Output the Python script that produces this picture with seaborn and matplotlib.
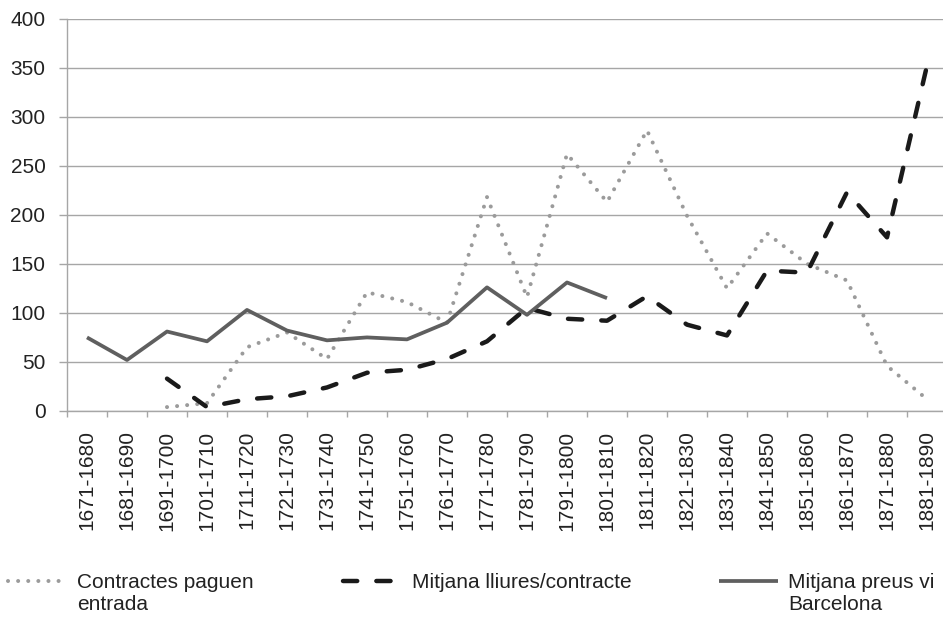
import numpy as np
import pandas as pd
import matplotlib
matplotlib.use("Agg")
import matplotlib.pyplot as plt
import seaborn as sns
from matplotlib.lines import Line2D

periods = ['1671-1680', '1681-1690', '1691-1700', '1701-1710', '1711-1720',
           '1721-1730', '1731-1740', '1741-1750', '1751-1760', '1761-1770',
           '1771-1780', '1781-1790', '1791-1800', '1801-1810', '1811-1820',
           '1821-1830', '1831-1840', '1841-1850', '1851-1860', '1861-1870',
           '1871-1880', '1881-1890']
nan = np.nan
contractes = [nan, nan, 4, 8, 65, 80, 53, 121, 111, 90, 218, 116, 262, 213,
              286, 199, 125, 181, 150, 133, 46, 12]
lliures = [nan, nan, 33, 4, 12, 15, 24, 39, 42, 53, 71, 105, 94, 92,
           117, 88, 77, 143, 141, 223, 177, 352]
preus = [75, 52, 81, 71, 103, 82, 72, 75, 73, 90, 126, 98, 131, 115,
         nan, nan, nan, nan, nan, nan, nan, nan]

labels = ['Contractes paguen\nentrada', 'Mitjana lliures/contracte',
          'Mitjana preus vi\nBarcelona']

sns.set_theme(style="white")
plt.rcParams['font.family'] = ['Liberation Sans', 'DejaVu Sans']
plt.rcParams['text.color'] = '#222222'

df = pd.DataFrame({'pos': np.arange(len(periods)), 'contractes': contractes,
                   'lliures': lliures, 'preus': preus})

grid_c = '#a6a6a6'
dot_c = '#9b9b9b'
dash_c = '#1a1a1a'
solid_c = '#5f5f5f'
fs = 15

fig = plt.figure(figsize=(9.43, 6.2), dpi=100)
ax = fig.add_axes([67 / 943, 1 - 411 / 620, 880 / 943, (411 - 18.5) / 620])

dot_style = dict(color=dot_c, linewidth=2.9, linestyle=(0, (0.01, 2.5)),
                 dash_capstyle='round')
dash_style = dict(color=dash_c, linewidth=3.2, linestyle=(0, (3.2, 4.3)),
                  dash_capstyle='round')
solid_style = dict(color=solid_c, linewidth=2.7, solid_capstyle='butt')

sns.lineplot(data=df, x='pos', y='contractes', ax=ax, **dot_style)
sns.lineplot(data=df, x='pos', y='lliures', ax=ax, **dash_style)
sns.lineplot(data=df, x='pos', y='preus', ax=ax, **solid_style)

ax.set_xlim(-0.5, len(periods) - 0.5)
ax.set_ylim(0, 400)
ax.set_yticks(np.arange(0, 401, 50))
ax.set_xticks(df['pos'])
ax.set_xticklabels(periods, rotation=90, va='top', ha='center')
ax.set_xticks(np.arange(-0.5, len(periods)), minor=True)
ax.tick_params(axis='x', which='major', length=0, pad=14, labelsize=fs,
               labelcolor='#222222')
ax.tick_params(axis='x', which='minor', length=4.5, width=1, color=grid_c,
               bottom=True)
ax.tick_params(axis='y', length=5.5, width=1, color=grid_c, pad=10,
               labelsize=fs, labelcolor='#222222', left=True)
ax.set_xlabel('')
ax.set_ylabel('')
ax.yaxis.grid(True, color=grid_c, linewidth=1)
ax.xaxis.grid(False)
ax.set_axisbelow(True)
for s in ['top', 'right']:
    ax.spines[s].set_visible(False)
for s in ['left', 'bottom']:
    ax.spines[s].set_color(grid_c)
    ax.spines[s].set_linewidth(1)

# legend: one entry per legend box, second line of text added below
entries = [
    (dot_style, labels[0], 8, 2.65, 0.67),
    (dash_style, labels[1], 343, 2.5, 0.8),
    (solid_style, labels[2], 719, 2.85, 0.45),
]
legs = []
for style, lab, x0, hl, tp in entries:
    first = lab.split('\n')[0]
    h = Line2D([], [], **style)
    leg = fig.legend(handles=[h], labels=[first], loc='upper left',
                     bbox_to_anchor=(x0 / 943, 1 - 573 / 620), frameon=False,
                     borderpad=0, borderaxespad=0, handlelength=hl,
                     handletextpad=tp, fontsize=fs)
    legs.append((leg, lab))

fig.canvas.draw()
renderer = fig.canvas.get_renderer()
for leg, lab in legs:
    parts = lab.split('\n')
    if len(parts) < 2:
        continue
    t = leg.get_texts()[0]
    bb = t.get_window_extent(renderer)
    fx, fy = fig.transFigure.inverted().transform((bb.x0, bb.y0 - 3))
    fig.text(fx, fy, parts[1], fontsize=fs, va='top', ha='left',
             color='#222222')

fig.savefig('out.png', dpi=100)
